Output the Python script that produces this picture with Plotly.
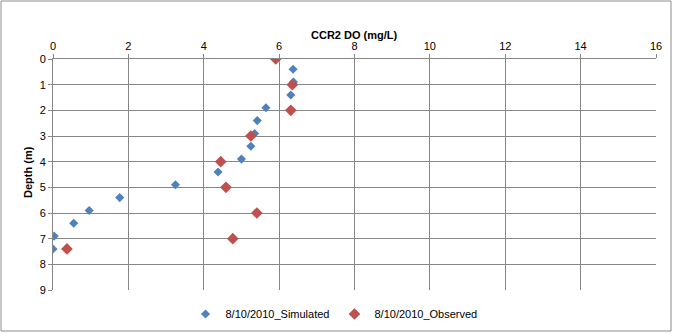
import plotly.graph_objects as go

sim_depth = [0.4, 0.9, 1.4, 1.9, 2.4, 2.9, 3.4, 3.9, 4.4, 4.9, 5.4, 5.9, 6.4, 6.9, 7.4]
sim_do = [6.37, 6.38, 6.31, 5.65, 5.42, 5.35, 5.25, 5.0, 4.38, 3.25, 1.77, 0.96, 0.55, 0.03, 0.0]
obs_depth = [0, 1, 2, 3, 4, 5, 6, 7, 7.4]
obs_do = [5.91, 6.35, 6.31, 5.25, 4.45, 4.59, 5.41, 4.77, 0.37]

W, H = 673, 333
L, R, T, B = 53, 17, 59, 43
pw, ph = W - L - R, H - T - B
font = "Liberation Sans"

fig = go.Figure()
fig.add_trace(go.Scatter(x=sim_do, y=sim_depth, mode="markers", name="8/10/2010_Simulated",
                         marker=dict(symbol="diamond", size=7, color="#4F81BD")))
fig.add_trace(go.Scatter(x=obs_do, y=obs_depth, mode="markers", name="8/10/2010_Observed",
                         marker=dict(symbol="diamond", size=9, color="#C0504D")))

fig.update_layout(
    width=W, height=H,
    margin=dict(l=L, r=R, t=T, b=B, pad=0, autoexpand=False),
    paper_bgcolor="white", plot_bgcolor="white",
    font=dict(family=font, size=11, color="#000000"),
    showlegend=True,
    legend=dict(orientation="h", x=(334 - L) / pw, xanchor="center", y=(H - B - 314) / ph,
                yanchor="middle", font=dict(size=11), itemwidth=30, tracegroupgap=0),
    xaxis=dict(side="top", range=[0, 16], dtick=2, showgrid=True, gridcolor="#878787", gridwidth=1,
               showline=True, linecolor="#878787", ticks="outside", ticklen=4, tickcolor="#878787",
               zeroline=False, automargin=False, fixedrange=True),
    yaxis=dict(range=[9, 0], dtick=1, showgrid=True, gridcolor="#878787", gridwidth=1,
               showline=True, linecolor="#878787", ticks="outside", ticklen=4, tickcolor="#878787",
               zeroline=False, automargin=False, fixedrange=True),
    annotations=[
        dict(text="<b>CCR2 DO (mg/L)</b>", xref="paper", yref="paper", x=0.5, y=1 + (T - 35) / ph,
             showarrow=False, xanchor="center", yanchor="middle", font=dict(size=11)),
        dict(text="<b>Depth (m)</b>", xref="paper", yref="paper", x=-(L - 28) / pw, y=(H - B - 172) / ph,
             showarrow=False, xanchor="center", yanchor="middle", textangle=-90, font=dict(size=11)),
    ],
)

fig.add_shape(type="rect", xref="paper", yref="paper",
              x0=(1 - L) / pw, x1=(W - 2 - L) / pw, y0=-(B - 2) / ph, y1=1 + (T - 1) / ph,
              line=dict(color="#8c8c8c", width=1), fillcolor="rgba(0,0,0,0)", layer="below")

fig.write_html("out.html", config={"displayModeBar": False},
               post_script="document.body.style.margin='0';document.body.style.overflow='hidden';")
